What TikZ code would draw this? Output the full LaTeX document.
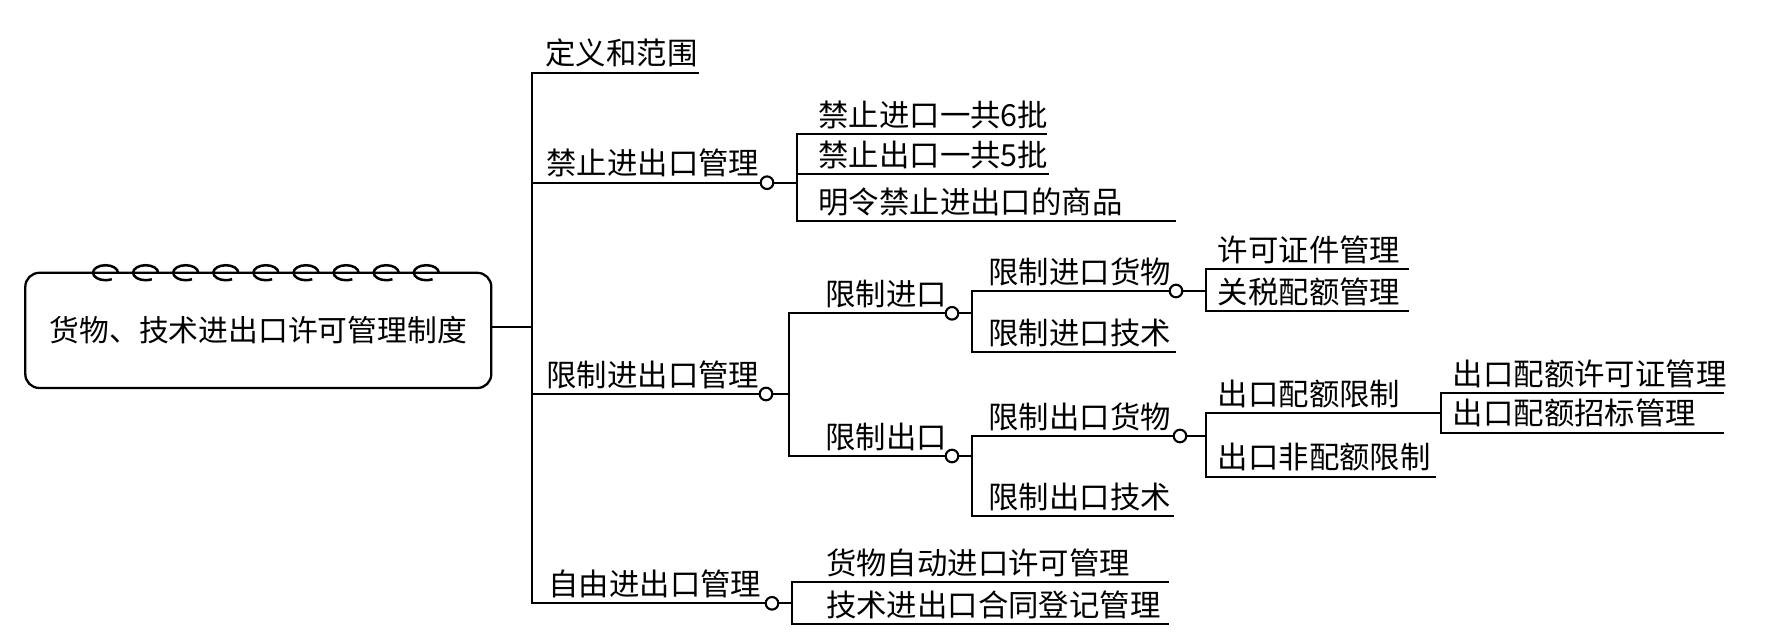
\documentclass[tikz,border=0pt]{standalone}
\usepackage{fontspec}
\newfontfamily\cjk{Noto Sans CJK SC}
\tikzset{
  ln/.style={line width=1.15pt, line cap=rect},
  lbl/.style={anchor=base west, inner sep=0pt, font=\cjk\fontsize{15.2pt}{18pt}\selectfont},
  knot/.style={circle, draw, fill=white, line width=1.05pt, inner sep=0pt, minimum size=6.3pt},
  rootbox/.style={draw, line width=1.15pt, rounded corners=7pt, minimum width=233pt, minimum height=57.6pt, inner sep=0pt, font=\cjk\fontsize{14.9pt}{18pt}\selectfont},
  coil/.style={line width=1.25pt}
}
\begin{document}
\begin{tikzpicture}[x=0.5pt,y=-0.5pt]
\useasboundingbox (0,0) rectangle (1786,639);

% root
\node[rootbox] (root) at (258.3,330.4) {货物、技术进出口许可管理制度};
\foreach \i in {0,...,8}{
  \draw[coil] ({105.5+40.1*\i+12.5},272.7) arc[start angle=0, end angle=-300, x radius=12.5, y radius=7.5];
}

% trunk
\coordinate (T0) at (532,327);
\coordinate (T1) at (532,72.7);
\coordinate (T2) at (532,182.7);
\coordinate (T3) at (532,394);
\coordinate (T4) at (532,603.3);
\draw[ln] (root.east |- T0) -- (T0);
\draw[ln] (T1) -- (T4);

% level 1
\coordinate (E1) at (697.8,72.7);
\draw[ln] (T1) -- (E1);
\node[lbl] (n1) at (545,64.7) {定义和范围};

\node[knot] (k2) at (767,182.7) {};
\node[knot] (k3) at (766,394) {};
\node[knot] (k4) at (772,603.3) {};
\draw[ln] (T2) -- (k2);
\draw[ln] (T3) -- (k3);
\draw[ln] (T4) -- (k4);
\node[lbl] (n2) at (546,174.7) {禁止进出口管理};
\node[lbl] (n3) at (546,386) {限制进出口管理};
\node[lbl] (n4) at (548,595.3) {自由进出口管理};

% 禁止进出口管理
\coordinate (B1) at (796.7,134.3);
\coordinate (B2) at (796.7,174);
\coordinate (B3) at (796.7,221);
\coordinate (BE1) at (1046,134.3);
\coordinate (BE2) at (1048,174);
\coordinate (BE3) at (1175,221);
\draw[ln] (k2) -- (k2 -| B1);
\draw[ln] (B1) -- (B3);
\draw[ln] (B1) -- (BE1);
\draw[ln] (B2) -- (BE2);
\draw[ln] (B3) -- (BE3);
\node[lbl] (n21) at (818,126.3) {禁止进口一共6批};
\node[lbl] (n22) at (818,166) {禁止出口一共5批};
\node[lbl] (n23) at (818,213) {明令禁止进出口的商品};

% 限制进出口管理
\coordinate (R1) at (789,313.3);
\coordinate (R2) at (789,456);
\draw[ln] (k3) -- (k3 -| R1);
\draw[ln] (R1) -- (R2);
\node[knot] (k31) at (952,313.3) {};
\node[knot] (k32) at (952,456) {};
\draw[ln] (R1) -- (k31);
\draw[ln] (R2) -- (k32);
\node[lbl] (n31) at (825,305.3) {限制进口};
\node[lbl] (n32) at (825,448) {限制出口};

% 限制进口
\coordinate (S1) at (972,291);
\coordinate (S2) at (972,352.3);
\coordinate (SE2) at (1175,352.3);
\draw[ln] (k31) -- (k31 -| S1);
\draw[ln] (S1) -- (S2);
\node[knot] (k311) at (1176,291) {};
\draw[ln] (S1) -- (k311);
\draw[ln] (S2) -- (SE2);
\node[lbl] (n311) at (988,283) {限制进口货物};
\node[lbl] (n312) at (988,344.3) {限制进口技术};

\coordinate (U1) at (1206,269.3);
\coordinate (U2) at (1206,311);
\coordinate (UE1) at (1408,269.3);
\coordinate (UE2) at (1408,311);
\draw[ln] (k311) -- (k311 -| U1);
\draw[ln] (U1) -- (U2);
\draw[ln] (U1) -- (UE1);
\draw[ln] (U2) -- (UE2);
\node[lbl] (n3111) at (1217.5,261.3) {许可证件管理};
\node[lbl] (n3112) at (1217.5,303) {关税配额管理};

% 限制出口
\coordinate (S3) at (972,436);
\coordinate (S4) at (972,516);
\coordinate (SE4) at (1173,516);
\draw[ln] (k32) -- (k32 -| S3);
\draw[ln] (S3) -- (S4);
\node[knot] (k321) at (1180,436) {};
\draw[ln] (S3) -- (k321);
\draw[ln] (S4) -- (SE4);
\node[lbl] (n321) at (988,428) {限制出口货物};
\node[lbl] (n322) at (988,508) {限制出口技术};

\coordinate (V1) at (1206,413.3);
\coordinate (V2) at (1206,476.7);
\coordinate (VE2) at (1435,476.7);
\coordinate (W0) at (1441,413.3);
\draw[ln] (k321) -- (k321 -| V1);
\draw[ln] (V1) -- (V2);
\draw[ln] (V1) -- (W0);
\draw[ln] (V2) -- (VE2);
\node[lbl] (n3211) at (1217.5,405.3) {出口配额限制};
\node[lbl] (n3212) at (1217.5,468.7) {出口非配额限制};

\coordinate (W1) at (1441,393.3);
\coordinate (W2) at (1441,432.7);
\coordinate (WE1) at (1723,393.3);
\coordinate (WE2) at (1723,432.7);
\draw[ln] (W1) -- (W2);
\draw[ln] (W1) -- (WE1);
\draw[ln] (W2) -- (WE2);
\node[lbl] (n32111) at (1452.5,385.3) {出口配额许可证管理};
\node[lbl] (n32112) at (1452.5,424.7) {出口配额招标管理};

% 自由进出口管理
\coordinate (F1) at (792,582.3);
\coordinate (F2) at (792,624.3);
\coordinate (FE1) at (1168,582.3);
\coordinate (FE2) at (1168,624.3);
\draw[ln] (k4) -- (k4 -| F1);
\draw[ln] (F1) -- (F2);
\draw[ln] (F1) -- (FE1);
\draw[ln] (F2) -- (FE2);
\node[lbl] (n41) at (825.7,574.3) {货物自动进口许可管理};
\node[lbl] (n42) at (825.7,616.3) {技术进出口合同登记管理};
\end{tikzpicture}
\end{document}
